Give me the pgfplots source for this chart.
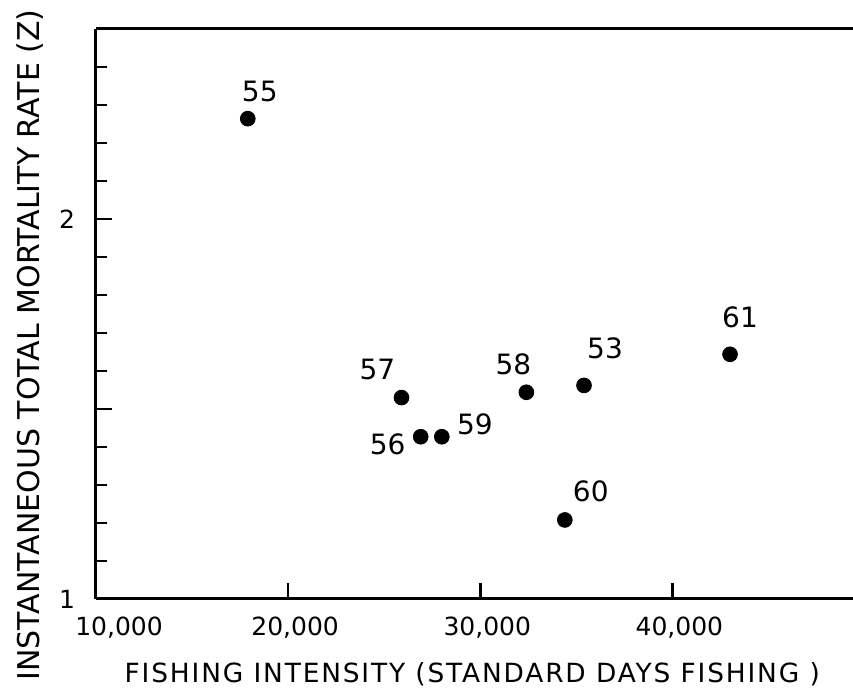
\documentclass[border=0pt]{standalone}
\usepackage{fontspec}
\setmainfont{DejaVu Sans}
\newfontfamily\xlabfont[LetterSpace=7]{DejaVu Sans}
\usepackage{pgfplots}
\usepackage{pgfplotstable}
\pgfplotsset{compat=1.18}

\pgfplotstableread{
x y lab dx dy
17900 2.264 55 6 13.5
25900 1.530 57 -12 14
26900 1.427 56 -16.5 -4
28000 1.427 59 16.5 6
32400 1.544 58 -6.5 14
35400 1.562 53 10.5 18.5
34400 1.208 60 13 14.5
43000 1.644 61 5 18.5
}\datatable

\begin{document}
\begin{tikzpicture}
\begin{axis}[
  scale only axis, width=378.5pt, height=285pt,
  xmin=10000, xmax=49400, ymin=1, ymax=2.5,
  axis x line*=box, axis y line*=left,
  axis line style={line width=1.5pt, black},
  xtick={10000,20000,30000,40000},
  xticklabels={{\hspace*{16pt}10,000},{20,000},{30,000},{40,000}},
  scaled x ticks=false, scaled y ticks=false,
  xtick pos=left, ytick pos=left,
  ytick={1,1.5,2}, yticklabels={1,,2},
  minor ytick={1.1,1.2,1.3,1.4,1.6,1.7,1.8,1.9,2.1,2.2,2.3,2.4},
  tick align=inside,
  major tick length=8pt, minor tick length=5.5pt,
  every tick/.style={black, line width=1.3pt},
  xticklabel style={font=\fontsize{12.5}{15}\selectfont, yshift=-5.5pt, xshift=3.5pt},
  yticklabel style={font=\fontsize{12.5}{15}\selectfont, xshift=-7pt},
  every axis y label/.style={at={(axis description cs:-0.0872,0.4456)}, rotate=90, anchor=center, font=\fontsize{15}{18}\selectfont},
  every axis x label/.style={at={(axis description cs:0.497,-0.1316)}, anchor=center, font=\xlabfont\fontsize{13.2}{16}\selectfont},
  xlabel={FISHING INTENSITY (STANDARD DAYS FISHING )},
  ylabel={INSTANTANEOUS TOTAL MORTALITY RATE (Z)},
  clip=false,
]
\addplot[only marks, mark=*, mark size=3.7pt, black,
  nodes near coords, point meta=explicit symbolic,
  visualization depends on={\thisrow{dx}\as\dx},
  visualization depends on={\thisrow{dy}\as\dy},
  every node near coord/.append style={anchor=center, xshift=\dx pt, yshift=\dy pt, font=\fontsize{14}{16}\selectfont, black}]
  table[x=x, y=y, meta=lab]{\datatable};
\end{axis}
\pgfresetboundingbox
\path (-48pt,-45pt) rectangle (378.5pt,299.5pt);
\end{tikzpicture}
\end{document}
